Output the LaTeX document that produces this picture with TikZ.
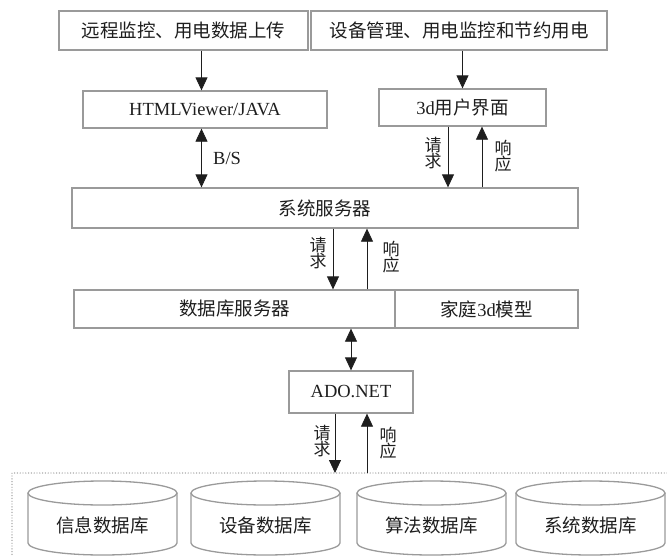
\documentclass[tikz,border=0pt]{standalone}
\usepackage{fontspec}
\setmainfont{Liberation Serif}
\newfontfamily\cjk{Noto Sans CJK SC}
\usetikzlibrary{arrows.meta}
\definecolor{edge}{HTML}{9A9A9A}
\definecolor{ink}{HTML}{1E1E1E}
\tikzset{
  box/.style={draw=edge, line width=1.3pt, inner sep=0pt, text=ink,
    font=\fontsize{18.5}{20}\selectfont},
  flow/.style={draw=ink, line width=0.8pt, -{Triangle[width=12pt,length=13pt]}},
  both/.style={draw=ink, line width=0.8pt,
    {Triangle[width=12pt,length=13pt]}-{Triangle[width=12pt,length=13pt]}},
  vlabel/.style={text=ink, align=center, inner sep=0pt,
    font=\cjk\fontsize{17}{16.5}\selectfont},
  dbtext/.style={text=ink, inner sep=0pt, font=\cjk\fontsize{18.5}{20}\selectfont},
  cyl/.style={draw=edge, line width=1.3pt},
  zone/.style={draw=edge, line width=1.4pt, line cap=round, dash pattern=on 0pt off 2.8pt}
}
\begin{document}
\begin{tikzpicture}[x=1pt,y=-1pt]
\useasboundingbox (0,0) rectangle (667,557);

% dotted frame around the databases
\coordinate (zr) at (667,473);
\coordinate (zt) at (12,473);
\coordinate (zb) at (12,557);
\draw[zone] (zr) -- (zt) -- (zb);

% application layer
\node[box, minimum width=249pt, minimum height=39pt] (rem) at (183.5,30.5) {\cjk 远程监控、用电数据上传};
\node[box, minimum width=296pt, minimum height=39pt] (mgr) at (459,30.5) {\cjk 设备管理、用电监控和节约用电};
\node[box, minimum width=244pt, minimum height=37pt] (htm) at (205,109.5) {HTMLViewer/JAVA};
\node[box, minimum width=167pt, minimum height=37pt] (ui) at (462.5,107.5) {3d{\cjk 用户界面}};

% server layer
\node[box, minimum width=506pt, minimum height=40pt] (srv) at (325,208) {\cjk 系统服务器};
\node[box, minimum width=321pt, minimum height=38pt] (dbs) at (234.5,309) {\cjk 数据库服务器};
\node[box, minimum width=183pt, minimum height=38pt] (m3d) at (486.5,309) {{\cjk 家庭}3d{\cjk 模型}};
\node[box, minimum width=124pt, minimum height=42pt] (ado) at (351,392) {ADO.NET};

% databases
\foreach \l/\r/\n/\t in {28/177/d1/信息数据库, 191/340/d2/设备数据库,
                          357/506/d3/算法数据库, 516/665/d4/系统数据库}{
  \pgfmathsetmacro\cx{(\l+\r)/2}
  \pgfmathsetmacro\rx{(\r-\l)/2}
  \draw[cyl] (\l,493) -- (\l,543)
    arc[start angle=180, end angle=360, x radius=\rx pt, y radius=12pt] -- (\r,493);
  \draw[cyl] (\cx,493) ellipse[x radius=\rx pt, y radius=12pt];
  \node[dbtext] (\n) at (\cx,525) {\t};
}

% connector columns
\coordinate (c1) at (201.5,0);
\coordinate (c2) at (333,0);
\coordinate (c3) at (367,0);
\coordinate (c4) at (335,0);

% connectors
\draw[flow] (rem.south -| c1) -- (htm.north -| c1);
\draw[flow] (mgr.south -| ui.north) -- (ui.north);
\draw[both] (htm.south -| c1) -- (srv.north -| c1);
\node[anchor=west, inner sep=0pt, text=ink, font=\fontsize{18.5}{20}\selectfont] (bs) at (213,158) {B/S};

\draw[flow] ([xshift=-14.5pt]ui.south) -- ([xshift=-14.5pt]ui.south |- srv.north);
\draw[flow] ([xshift=19.5pt]ui.south |- srv.north) -- ([xshift=19.5pt]ui.south);
\node[vlabel] (q1) at (433,153) {请\\求};
\node[vlabel] (r1) at (503,156) {响\\应};

\draw[flow] (srv.south -| c2) -- (dbs.north -| c2);
\draw[flow] (dbs.north -| c3) -- (srv.south -| c3);
\node[vlabel] (q2) at (318,253) {请\\求};
\node[vlabel] (r2) at (391,257) {响\\应};

\draw[both] (dbs.south -| ado.north) -- (ado.north);

\draw[flow] (ado.south -| c4) -- (zt -| c4);
\draw[flow] (zt -| c3) -- (ado.south -| c3);
\node[vlabel] (q3) at (322,441) {请\\求};
\node[vlabel] (r3) at (388,443) {响\\应};
\end{tikzpicture}
\end{document}
